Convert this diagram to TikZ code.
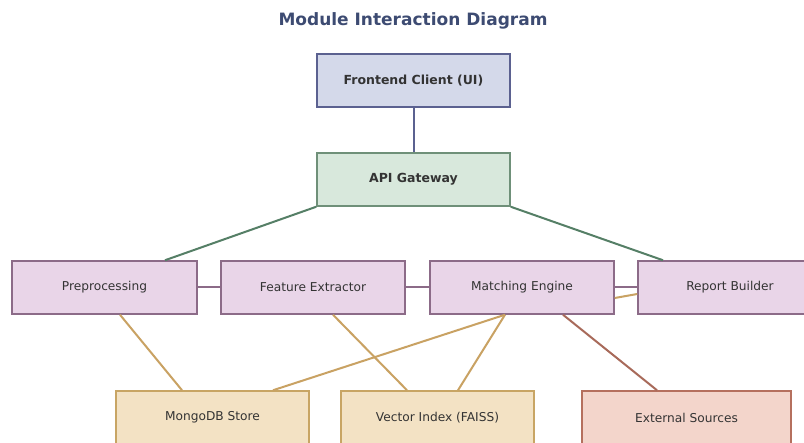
\documentclass[tikz,border=0pt]{standalone}
\usepackage{fontspec}
\setmainfont{DejaVu Sans}
\definecolor{titlec}{HTML}{3D4B72}
\definecolor{feFill}{HTML}{D4D9EA}
\definecolor{feDraw}{HTML}{5B6190}
\definecolor{apiFill}{HTML}{D8E8DC}
\definecolor{apiDraw}{HTML}{6F9079}
\definecolor{apiEdge}{HTML}{557F66}
\definecolor{modFill}{HTML}{E9D5E8}
\definecolor{modDraw}{HTML}{8C6B88}
\definecolor{dbFill}{HTML}{F3E2C4}
\definecolor{dbDraw}{HTML}{C8A564}
\definecolor{dbEdge}{HTML}{C9A263}
\definecolor{exFill}{HTML}{F3D5CB}
\definecolor{exDraw}{HTML}{B5705E}
\definecolor{exEdge}{HTML}{A86A5A}
\definecolor{txt}{HTML}{333333}
\tikzset{
  box/.style={rectangle, line width=1.5pt, minimum height=53pt, inner sep=0pt, text=txt, font=\fontsize{12.2}{14}\selectfont},
  topbox/.style={box, fill=feFill, draw=feDraw, minimum width=193pt, font=\fontsize{12.5}{15}\selectfont\bfseries},
  apibox/.style={box, fill=apiFill, draw=apiDraw, minimum width=193pt, font=\fontsize{12.5}{15}\selectfont\bfseries},
  modbox/.style={box, fill=modFill, draw=modDraw, minimum width=184pt},
  dbbox/.style={box, fill=dbFill, draw=dbDraw, minimum width=193pt},
  exbox/.style={box, fill=exFill, draw=exDraw, minimum width=209pt},
  link/.style={line width=2pt},
}
\begin{document}
\begin{tikzpicture}[x=1pt,y=-1pt]
\useasboundingbox[fill=white] (0,0) rectangle (804,443);
\node[text=titlec, font=\fontsize{17}{20}\selectfont\bfseries] (title) at (413,21) {Module Interaction Diagram};
\node[topbox] (fe) at (413.5,80.5) {Frontend Client (UI)};
\node[apibox] (api) at (413.5,179.5) {API Gateway};
\node[modbox, minimum width=185pt] (pre) at (104.5,287.5) {Preprocessing};
\node[modbox] (feat) at (313,287.5) {Feature Extractor};
\node[modbox] (mat) at (522,287.5) {Matching Engine};
\node[modbox] (rep) at (730,287.5) {Report Builder};
\node[dbbox] (mongo) at (212.5,417.5) {MongoDB Store};
\node[dbbox] (vec) at (437.5,417.5) {Vector Index (FAISS)};
\node[exbox] (ext) at (686.5,417.5) {External Sources};
% connectors
\draw[link, feDraw] (fe.south) -- (api.north);
\draw[link, apiEdge] (api.south west) -- ([xshift=60.5pt]pre.north);
\draw[link, apiEdge] (api.south east) -- ([xshift=-67pt]rep.north);
\draw[link, modDraw] (pre.east) -- (feat.west);
\draw[link, modDraw] (feat.east) -- (mat.west);
\draw[link, modDraw] ([yshift=0.5pt]mat.east) -- ([yshift=0.5pt]rep.west);
\draw[link, dbEdge] ([yshift=-10.5pt]mat.east) -- ([yshift=-6.5pt]rep.west);
\draw[link, dbEdge] ([xshift=15.5pt]pre.south) -- ([xshift=-30.5pt]mongo.north);
\draw[link, dbEdge] ([xshift=20pt]feat.south) -- ([xshift=-30.5pt]vec.north);
\draw[link, dbEdge] ([xshift=-17pt]mat.south) -- ([xshift=60.5pt]mongo.north);
\draw[link, dbEdge] ([xshift=-17pt]mat.south) -- ([xshift=20.5pt]vec.north);
\draw[link, exEdge] ([xshift=41pt]mat.south) -- ([xshift=-29.5pt]ext.north);
\end{tikzpicture}
\end{document}
